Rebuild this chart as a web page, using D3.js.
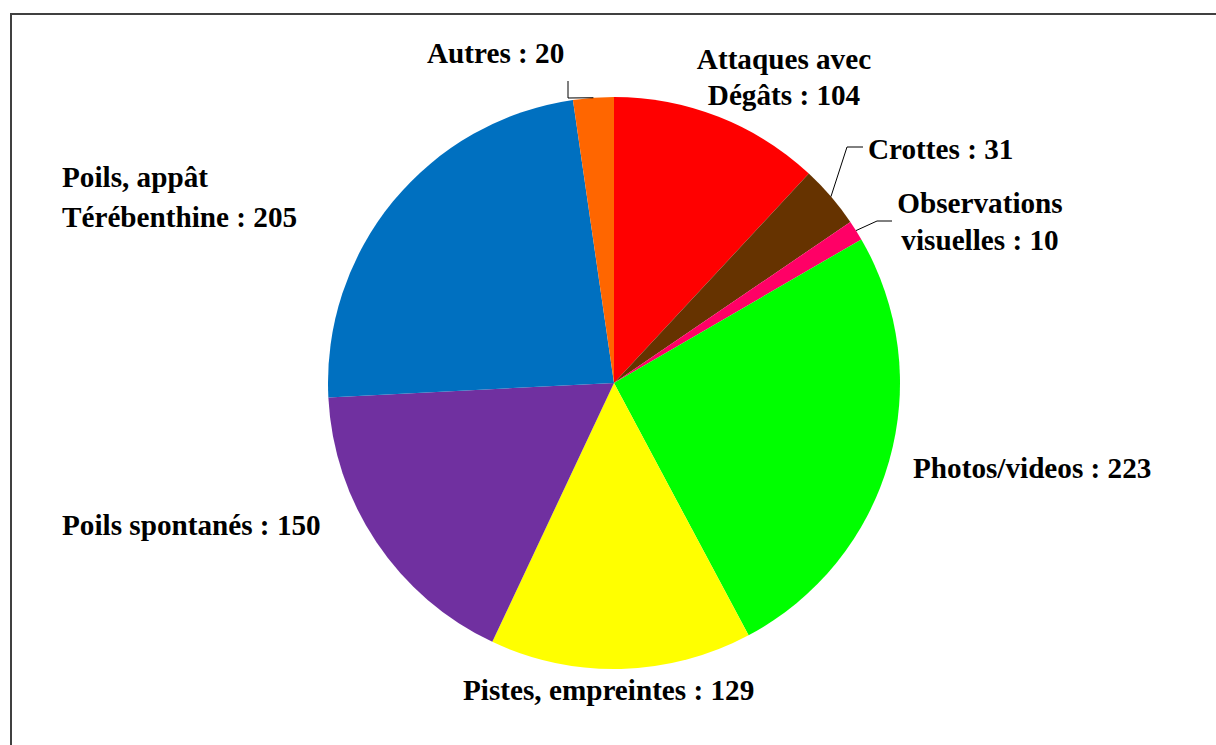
<!DOCTYPE html>
<html>
<head>
<meta charset="utf-8">
<script src="https://cdn.jsdelivr.net/npm/d3@7"></script>
<style>
  body { margin: 0; background: #fff; }
  .lbl { font-family: "Liberation Serif", "Times New Roman", serif; font-weight: bold; font-size: 29.2px; fill: #000; }
</style>
</head>
<body>
<div id="chart"></div>
<script>
// data, clockwise from 12 o'clock
var categories = ["Attaques avec Dégâts", "Crottes", "Observations visuelles", "Photos/videos",
    "Pistes, empreintes", "Poils spontanés", "Poils, appât Térébenthine", "Autres"];
var values = [104, 31, 10, 223, 129, 150, 205, 20];
var labelLines = [
    ["Attaques avec", "Dégâts : 104"],
    ["Crottes : 31"],
    ["Observations", "visuelles : 10"],
    ["Photos/videos : 223"],
    ["Pistes, empreintes : 129"],
    ["Poils spontanés : 150"],
    ["Poils, appât", "Térébenthine : 205"],
    ["Autres : 20"]
];
var colors = ["#ff0000", "#663300", "#ff0066", "#00ff00", "#ffff00", "#7030a0", "#0070c0", "#ff6600"];

var svgWidth = 1216;
var svgHeight = 745;

var cx = 614, cy = 383, radius = 286;

// label placement: x, first baseline, anchor, line gap, leader elbow (or null)
var labelPos = [
    {x: 784, y: 69, anchor: "middle", gap: 36, elbow: null},
    {x: 868, y: 159, anchor: "start", gap: 0, elbow: [[863, 147], [847, 147]]},
    {x: 980, y: 213, anchor: "middle", gap: 37, elbow: [[892, 221], [877, 221]]},
    {x: 913, y: 478, anchor: "start", gap: 0, elbow: null},
    {x: 463, y: 700, anchor: "start", gap: 0, elbow: null},
    {x: 62, y: 535, anchor: "start", gap: 0, elbow: null},
    {x: 62, y: 187, anchor: "start", gap: 40, elbow: null},
    {x: 427, y: 63, anchor: "start", gap: 0, elbow: [[568, 81], [568, 98]]}
];

var svg = d3.select("#chart")
    .append("svg")
    .attr("width", svgWidth)
    .attr("height", svgHeight);

svg.append("rect")
    .attr("width", svgWidth)
    .attr("height", svgHeight)
    .attr("fill", "#fff");

// chart frame, runs off the right and bottom of the picture
svg.append("rect")
    .attr("x", 11)
    .attr("y", 14)
    .attr("width", 1300)
    .attr("height", 800)
    .attr("fill", "none")
    .attr("stroke", "#404040")
    .attr("stroke-width", 2);

var pie = d3.pie().sort(null).value(d => d);
var arcs = pie(values);
var arc = d3.arc().innerRadius(0).outerRadius(radius);

var chart = svg.append("g")
    .attr("transform", `translate(${cx}, ${cy})`);

chart.selectAll("path.slice")
    .data(arcs)
    .enter()
    .append("path")
    .attr("class", "slice")
    .attr("d", arc)
    .attr("fill", (d, i) => colors[i]);

// leader lines for the small slices
arcs.forEach((d, i) => {
    var p = labelPos[i];
    if (!p.elbow) return;
    var mid = (d.startAngle + d.endAngle) / 2;
    var ex = cx + radius * Math.sin(mid);
    var ey = cy - radius * Math.cos(mid);
    var pts = p.elbow.concat([[ex, ey]]);
    svg.append("path")
        .attr("d", d3.line()(pts))
        .attr("fill", "none")
        .attr("stroke", "#000")
        .attr("stroke-width", 1);
});

// labels
labelLines.forEach((lines, i) => {
    var p = labelPos[i];
    var t = svg.append("text")
        .attr("class", "lbl")
        .attr("text-anchor", p.anchor);
    lines.forEach((s, j) => {
        t.append("tspan")
            .attr("x", p.x)
            .attr("y", p.y + j * p.gap)
            .text(s);
    });
});
</script>
</body>
</html>
